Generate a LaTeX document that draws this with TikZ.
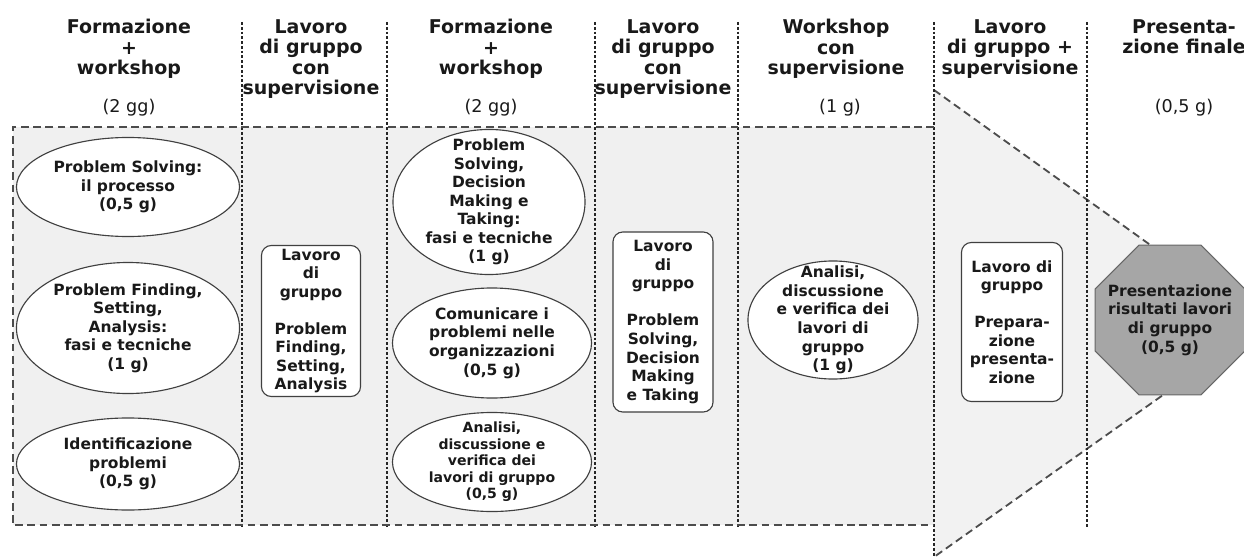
\documentclass[tikz,border=0pt]{standalone}
\usepackage{fontspec}
\setmainfont{DejaVu Sans}
\usetikzlibrary{%
		shapes.geometric%
	}

\begin{document}
\begin{tikzpicture}[x=0.025cm, y=-0.025cm,
		header/.style={anchor=north, align=center, inner sep=0pt, text=black!90, font=\fontsize{13.5}{14.6}\selectfont\bfseries},
		days/.style={inner sep=0pt, text=black!90, font=\fontsize{12.5}{14}\selectfont},
		topic/.style={ellipse, draw=black!75, fill=white, line width=0.8pt, align=center, inner sep=0pt, text=black!90, font=\fontsize{11}{13.2}\selectfont\bfseries},
		teamwork/.style={rectangle, rounded corners=7pt, draw=black!75, fill=white, line width=0.8pt, align=center, inner sep=0pt, text=black!90, font=\fontsize{11}{13.2}\selectfont\bfseries},
		divider/.style={black!85, line width=1.3pt, dash pattern=on 2pt off 1.4pt},
		frame/.style={black!70, line width=1.3pt, dash pattern=on 5.5pt off 3.2pt}
	]
			\useasboundingbox (0,0) rectangle (1244,558);
			
			% Background
			\fill[black!6] (13,127) rectangle (934,525);
			\begin{scope}
				\clip (0,0) rectangle (1244,558);
				\fill[black!5] (934,90) -- (1262,325) -- (934,557) -- cycle;
				\draw[frame] (934,90) -- (1262,325) -- (934,557);
			\end{scope}
			
			% Dividers
			\draw[divider] (242,22) -- (242,528);
			\draw[divider] (387,22) -- (387,528);
			\draw[divider] (595,22) -- (595,528);
			\draw[divider] (738,22) -- (738,528);
			\draw[divider] (934,22) -- (934,557);
			\draw[divider] (1087,22) -- (1087,528);
			
			% Frame
			\draw[frame] (934,127) -- (13,127) -- (13,525) -- (934,525);
			
			% Headers
			\node[header] (h1) at (129,19) {Formazione\\+\\workshop};
			\node[header] (h2) at (311,19) {Lavoro\\di gruppo\\con\\supervisione};
			\node[header] (h3) at (491,19) {Formazione\\+\\workshop};
			\node[header] (h4) at (663,19) {Lavoro\\di gruppo\\con\\supervisione};
			\node[header] (h5) at (836,19) {Workshop\\con\\supervisione};
			\node[header] (h6) at (1010,19) {Lavoro\\di gruppo +\\supervisione};
			\node[header] (h7) at (1184,19) {Presenta-\\zione finale};
			
			% Days
			\node[days] (d1) at (129,108) {(2 gg)};
			\node[days] (d3) at (491,108) {(2 gg)};
			\node[days] (d5) at (840,108) {(1 g)};
			\node[days] (d7) at (1184,108) {(0,5 g)};
			
			% First column
			\node[topic, minimum width=5.575cm, minimum height=2.475cm] (solving) at (128,187) {Problem Solving:\\il processo\\(0,5 g)};
			\node[topic, minimum width=5.575cm, minimum height=3.275cm] (finding) at (128,328) {Problem Finding,\\Setting,\\Analysis:\\fasi e tecniche\\(1 g)};
			\node[topic, minimum width=5.575cm, minimum height=2.3cm] (ident) at (128,464) {Identificazione\\problemi\\(0,5 g)};
			
			% Second column
			\node[teamwork, minimum width=2.475cm, minimum height=3.775cm] (team1) at (311,321) {Lavoro\\di\\gruppo\\[13.2pt]Problem\\Finding,\\Setting,\\Analysis};
			
			% Third column
			\node[topic, minimum width=4.8cm, minimum height=3.625cm, inner ysep=-9.5pt] (decision) at (489,202) {Problem\\Solving,\\Decision\\Making e\\Taking:\\fasi e tecniche\\(1 g)};
			\node[topic, minimum width=4.975cm, minimum height=2.75cm] (comm) at (492,343) {Comunicare i\\problemi nelle\\organizzazioni\\(0,5 g)};
			\node[topic, minimum width=4.975cm, minimum height=2.475cm, inner ysep=-4.5pt, font=\fontsize{10}{11.7}\selectfont\bfseries] (review1) at (492,462) {Analisi,\\discussione e\\verifica dei\\lavori di gruppo\\(0,5 g)};
			
			% Fourth column
			\node[teamwork, minimum width=2.5cm, minimum height=4.5cm] (team2) at (663,322) {Lavoro\\di\\gruppo\\[13.2pt]Problem\\Solving,\\Decision\\Making\\e Taking};
			
			% Fifth column
			\node[topic, minimum width=4.25cm, minimum height=2.95cm, inner ysep=-10pt] (review2) at (833,320) {Analisi,\\discussione\\e verifica dei\\lavori di\\gruppo\\(1 g)};
			
			% Sixth column
			\node[teamwork, minimum width=2.525cm, minimum height=3.975cm] (team3) at (1012,322) {Lavoro di\\gruppo\\[13.2pt]Prepara-\\zione\\presenta-\\zione};
			
			% Final
			\node[regular polygon, regular polygon sides=8, minimum size=4.05cm, inner sep=-7pt, draw=black!60, fill=black!35, line width=0.8pt, align=center, text=black!90, font=\fontsize{11}{13.2}\selectfont\bfseries] (final) at (1170,320) {Presentazione\\risultati lavori\\di gruppo\\(0,5 g)};
			
		\end{tikzpicture}
\end{document}
